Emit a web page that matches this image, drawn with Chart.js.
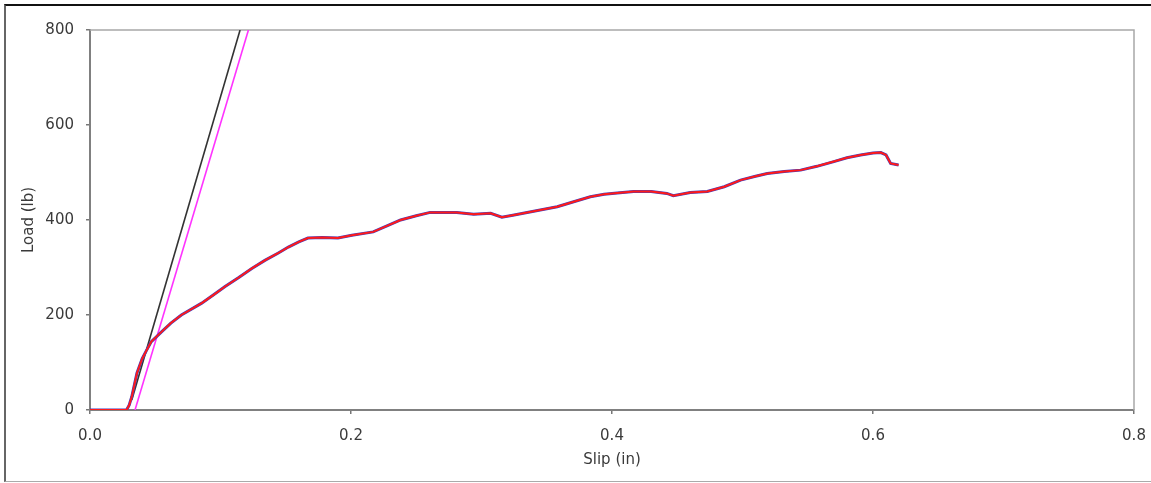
<!DOCTYPE html>
<html>
<head>
<meta charset="utf-8">
<script src="https://cdn.jsdelivr.net/npm/chart.js@4/dist/chart.umd.min.js"></script>
<style>
  html, body { margin: 0; padding: 0; background: #fff; }
  #wrap { position: relative; width: 1151px; height: 483px; overflow: hidden; }
  #frame { position: absolute; left: 4px; top: 4px; width: 1147px; height: 475px;
           border-top: 2px solid #111; border-left: 2px solid #666; border-bottom: 1px solid #aaa; box-sizing: content-box; }
  canvas { position: absolute; left: 0; top: 0; }
</style>
</head>
<body>
<div id="wrap">
  <div id="frame"></div>
  <canvas id="c" width="1151" height="483"></canvas>
</div>
<script>
// Measured slip (in) and load (lb)
const slip = [0, 0.01, 0.02, 0.028, 0.030, 0.032, 0.036, 0.040, 0.0434, 0.047, 0.055, 0.062, 0.070, 0.0856, 0.095, 0.1035, 0.114, 0.124, 0.134, 0.144, 0.152, 0.160, 0.167, 0.178, 0.190, 0.2007, 0.217, 0.228, 0.238, 0.250, 0.2607, 0.270, 0.281, 0.294, 0.307, 0.3156, 0.324, 0.332, 0.345, 0.358, 0.370, 0.3834, 0.394, 0.404, 0.4166, 0.430, 0.442, 0.447, 0.460, 0.473, 0.486, 0.4985, 0.510, 0.519, 0.532, 0.5445, 0.557, 0.570, 0.580, 0.5905, 0.600, 0.606, 0.610, 0.6135, 0.6196];
const load = [0, 0, 0, 0, 10, 28, 78, 108, 126, 144, 165, 183, 200, 225, 243, 260, 279, 298, 315, 330, 343, 354, 362, 363, 362, 368, 375, 388, 400, 409, 416, 416, 416, 412, 414, 406, 410, 414, 421, 428, 438, 449, 454, 457, 460, 460, 456, 451, 458, 460, 470, 484, 492, 498, 502, 505, 513, 523, 531, 537, 541, 542, 537, 519, 516];
// Reference stiffness lines
const blackSlip = [0.032, 0.115];
const blackLoad = [21, 800];
const magentaSlip = [0.0345, 0.1214];
const magentaLoad = [0, 800];
// Axis ticks
const xTicks = [0, 0.2, 0.4, 0.6, 0.8];
const yTicks = [0, 200, 400, 600, 800];

const pts = (xs, ys) => xs.map((x, i) => ({ x: x, y: ys[i] }));

const framePlugin = {
  id: 'frame',
  beforeDatasetsDraw(chart) {
    const { ctx, chartArea: a } = chart;
    ctx.save();
    ctx.strokeStyle = '#a8a8a8';
    ctx.lineWidth = 1.5;
    ctx.beginPath();
    ctx.moveTo(a.left, a.top);
    ctx.lineTo(a.right, a.top);
    ctx.lineTo(a.right, a.bottom);
    ctx.stroke();
    ctx.restore();
  }
};

const font = { family: 'DejaVu Sans', size: 15 };

new Chart(document.getElementById('c'), {
  type: 'scatter',
  data: {
    datasets: [
      { label: 'fit', data: pts(magentaSlip, magentaLoad), showLine: true, borderColor: '#ff33ff', borderWidth: 1.6, pointRadius: 0, order: 4 },
      { label: 'fit2', data: pts(blackSlip, blackLoad), showLine: true, borderColor: '#333333', borderWidth: 1.6, pointRadius: 0, order: 3 },
      { label: 'load-b', data: pts(slip, load), showLine: true, borderColor: '#4040c0', borderWidth: 3, pointRadius: 0, order: 2 },
      { label: 'load-r', data: pts(slip, load), showLine: true, borderColor: '#ff1a1a', borderWidth: 2, pointRadius: 0, order: 1 }
    ]
  },
  options: {
    responsive: false,
    animation: false,
    layout: { padding: { top: 30, right: 17, left: 0, bottom: 0 } },
    plugins: { legend: { display: false }, tooltip: { enabled: false } },
    scales: {
      x: {
        type: 'linear', min: 0, max: 0.8,
        afterBuildTicks: s => { s.ticks = xTicks.map(v => ({ value: v })); },
        afterFit: s => { s.height = 73; s.paddingLeft = 0; s.paddingRight = 0; },
        ticks: { font: font, color: '#3a3a3a', padding: 13, callback: v => v.toFixed(1) },
        grid: { drawOnChartArea: false, drawTicks: true, tickLength: 4, color: '#777', lineWidth: 1.5 },
        border: { display: true, color: '#808080', width: 2 },
        title: { display: true, text: 'Slip (in)', font: font, color: '#3a3a3a', padding: { top: 0, bottom: 14 } }
      },
      y: {
        type: 'linear', min: 0, max: 800,
        afterBuildTicks: s => { s.ticks = yTicks.map(v => ({ value: v })); },
        afterFit: s => { s.width = 90; s.paddingTop = 0; s.paddingBottom = 0; },
        ticks: { font: font, color: '#3a3a3a', padding: 12, callback: v => String(v) },
        grid: { drawOnChartArea: false, drawTicks: true, tickLength: 4, color: '#777', lineWidth: 1.5 },
        border: { display: true, color: '#808080', width: 2 },
        title: { display: true, text: 'Load (lb)', font: font, color: '#3a3a3a', padding: { top: 20, bottom: 0 } }
      }
    }
  },
  plugins: [framePlugin]
});
</script>
</body>
</html>
